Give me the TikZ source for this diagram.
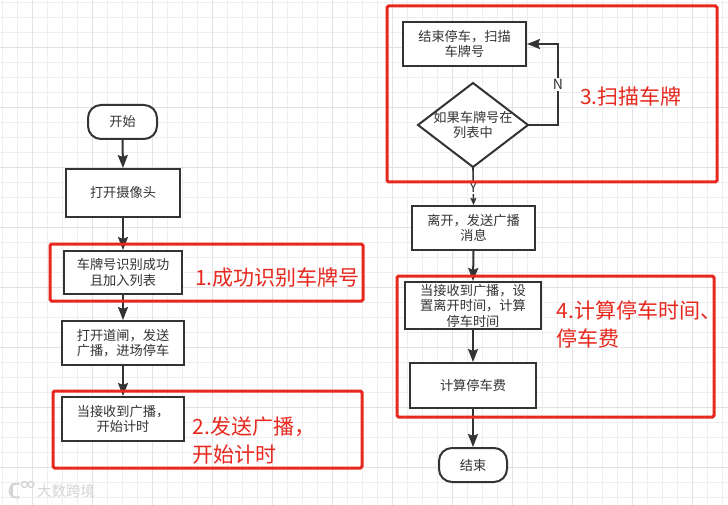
\documentclass[tikz,border=0pt]{standalone}
\usepackage{fontspec}
\setmainfont{Noto Sans CJK SC}
\usetikzlibrary{arrows.meta}
\definecolor{ink}{HTML}{333333}
\definecolor{redbox}{HTML}{E8281E}
\definecolor{gridminor}{HTML}{EEEEEE}
\definecolor{gridmajor}{HTML}{E2E2E2}
\definecolor{wm}{HTML}{D4D4D4}
\tikzset{
  flowbox/.style={draw=ink,line width=2pt,fill=white,text=ink,inner sep=0pt,align=center,
    font=\fontsize{13.2}{15.5}\selectfont},
  termbox/.style={flowbox,rounded corners=13pt},
  flowarrow/.style={draw=ink,line width=2pt,-{Stealth[length=13pt,width=10pt,inset=2pt]}},
  smallarrow/.style={draw=ink,line width=1.6pt,-{Stealth[length=7pt,width=6pt,inset=1pt]}},
  edgelabel/.style={fill=white,text=ink,inner sep=1pt,font=\fontsize{14}{15}\selectfont},
  redframe/.style={draw=redbox,line width=3pt,rounded corners=1.5pt,inner sep=0pt},
  redlabel/.style={text=redbox,inner sep=0pt,align=left,anchor=west,
    font=\fontsize{21}{28}\selectfont},
}
\begin{document}
\begin{tikzpicture}[x=1pt,y=-1pt]
\useasboundingbox (0,0) rectangle (728,505);
\fill[white] (0,0) rectangle (728,505);
% background grid
\foreach \i in {0,...,48}{\draw[gridminor,line width=0.8pt] ({2+15*\i},0) -- ({2+15*\i},505);}
\foreach \i in {0,...,33}{\draw[gridminor,line width=0.8pt] (0,{2+15*\i}) -- (728,{2+15*\i});}
\foreach \i in {0,...,11}{\draw[gridmajor,line width=0.8pt] ({32+60*\i},0) -- ({32+60*\i},505);}
\foreach \i in {0,...,8}{\draw[gridmajor,line width=0.8pt] (0,{47+60*\i}) -- (728,{47+60*\i});}

% left column
\node[termbox,minimum width=69pt,minimum height=34pt] (start) at (122.5,122) {开始};
\node[flowbox,minimum width=114pt,minimum height=48pt] (cam) at (123,193) {打开摄像头};
\node[flowbox,minimum width=118pt,minimum height=43pt] (plate) at (123,272.5) {车牌号识别成功\\且加入列表};
\node[flowbox,minimum width=122pt,minimum height=44pt] (gate) at (123,343) {打开道闸，发送\\广播，进场停车};
\node[flowbox,minimum width=122pt,minimum height=44pt] (recv) at (123,419) {当接收到广播，\\开始计时};

% right column
\node[flowbox,minimum width=123pt,minimum height=44pt] (scan) at (464.5,44) {结束停车，扫描\\车牌号};
\path[draw=ink,line width=2pt,fill=white,line join=miter] (473,83) -- (528,125) -- (473,167) -- (418,125) -- cycle;
\node[inner sep=0pt,minimum width=110pt,minimum height=84pt,text=ink,align=center,
  font=\fontsize{13.2}{15.5}\selectfont] (dec) at (473,125) {如果车牌号在\\列表中};
\coordinate (decE) at (528,125);
\coordinate (decS) at (473,167);
\coordinate (nc) at (558,44);
\node[flowbox,minimum width=123pt,minimum height=44pt] (leave) at (473.5,228) {离开，发送广播\\消息};
\node[flowbox,minimum width=136pt,minimum height=47pt] (calc) at (473,305.5) {当接收到广播，设\\置离开时间，计算\\停车时间};
\node[flowbox,minimum width=126pt,minimum height=45pt] (fee) at (473,385.5) {计算停车费};
\node[termbox,minimum width=68pt,minimum height=34pt] (stop) at (473,465) {结束};

% connectors
\draw[flowarrow] (start.south) -- (cam.north);
\draw[flowarrow] (cam.south) -- (plate.north);
\draw[flowarrow] (plate.south) -- (gate.north);
\draw[flowarrow] (gate.south) -- (recv.north);
\draw[flowarrow] (decE) -| (nc) node[edgelabel,pos=0.75] (nlab) {N} -- (scan.east);
\draw[smallarrow] (decS) -- (leave.north) node[edgelabel,pos=0.54] (ylab) {Y};
\draw[flowarrow] (leave.south) -- (calc.north);
\draw[flowarrow] (calc.south) -- (fee.north);
\draw[flowarrow] (fee.south) -- (stop.north);

% red frames
\node[redframe,minimum width=313pt,minimum height=57pt] (r1) at (206.5,272.5) {};
\node[redframe,minimum width=309pt,minimum height=77pt] (r2) at (207.5,429.5) {};
\node[redframe,minimum width=330pt,minimum height=176pt] (r3) at (552,94) {};
\node[redframe,minimum width=317pt,minimum height=141pt] (r4) at (555.5,346.5) {};

% red labels
\node[redlabel] (l1) at (195,278) {1.成功识别车牌号};
\node[redlabel] (l2) at (192.5,441) {2.发送广播，\\开始计时};
\node[redlabel] (l3) at (580,96) {3.扫描车牌};
\node[redlabel] (l4) at (556.5,324) {4.计算停车时间、\\停车费};

% watermark
\draw[wm,line width=2pt,line cap=round] (19,484) arc[start angle=70,end angle=290,radius=7pt];
\draw[wm,line width=2pt,line cap=round] (12,484) -- (12,497);
\draw[wm,line width=1.3pt] (24.5,484.5) circle[radius=3pt];
\draw[wm,line width=1.3pt] (31,484.5) circle[radius=3pt];
\node[text=wm,inner sep=0pt,anchor=west,font=\fontsize{14.5}{16}\selectfont] (wmtext) at (37,491) {大数跨境};
\end{tikzpicture}
\end{document}
